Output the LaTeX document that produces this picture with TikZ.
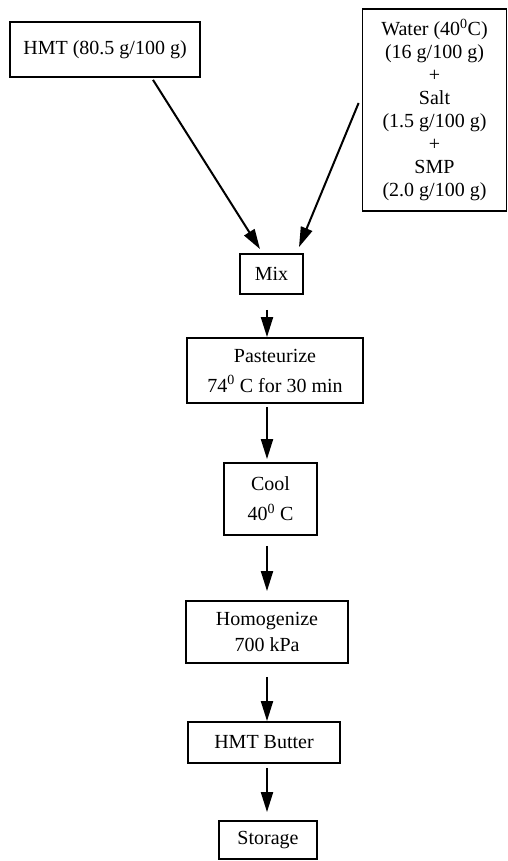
\documentclass[tikz,border=0pt]{standalone}
\usepackage{fontspec}
\setmainfont{Liberation Serif}
\usetikzlibrary{arrows.meta}
\begin{document}
\begin{tikzpicture}[x=1pt,y=1pt,
  box/.style={draw, line width=1.8pt, align=center, inner sep=0pt,
    font=\fontsize{20}{23}\selectfont},
  arr/.style={line width=2pt, -{Triangle[length=20pt,width=12pt]}}]
\useasboundingbox (0,0) rectangle (508,861);
\node[box, minimum width=190pt, minimum height=55pt] (hmt) at (105,811.5) {HMT (80.5 g/100 g)};
\node[box, minimum width=144pt, minimum height=202pt] (water) at (434.5,751)
  {Water (40\textsuperscript{0}C)\\(16 g/100 g)\\+\\Salt\\(1.5 g/100 g)\\+\\SMP\\(2.0 g/100 g)};
\node[box, minimum width=63pt, minimum height=40pt] (mix) at (271.5,587) {Mix};
\node[box, minimum width=176pt, minimum height=65pt, font=\fontsize{20}{30}\selectfont] (past) at (275,490.5)
  {Pasteurize\\74\textsuperscript{0} C for 30 min};
\node[box, minimum width=93pt, minimum height=72pt, font=\fontsize{20}{30}\selectfont] (cool) at (270.5,362)
  {Cool\\40\textsuperscript{0} C};
\node[box, minimum width=162pt, minimum height=62pt, font=\fontsize{20}{26}\selectfont] (homog) at (267,229)
  {Homogenize\\700 kPa};
\node[box, minimum width=152pt, minimum height=41pt] (butter) at (264,118.5) {HMT Butter};
\node[box, minimum width=98pt, minimum height=38pt] (storage) at (268,21) {Storage};
\coordinate (axis) at (267,0);
\draw[arr] ([xshift=48pt,yshift=-2pt]hmt.south) -- ([xshift=-11.5pt,yshift=4pt]mix.north);
\draw[arr] ([shift={(-3pt,7pt)}]water.west) -- ([shift={(27.5pt,6pt)}]mix.north);
\draw[arr, shorten <=15pt] (mix.south -| axis) -- (past.north -| axis);
\draw[arr, shorten <=3pt, shorten >=3pt] (past.south -| axis) -- (cool.north -| axis);
\draw[arr, shorten <=10pt, shorten >=9pt] (cool.south -| axis) -- (homog.north -| axis);
\draw[arr, shorten <=13pt] (homog.south -| axis) -- (butter.north -| axis);
\draw[arr, shorten <=4pt, shorten >=8pt] (butter.south -| axis) -- (storage.north -| axis);
\end{tikzpicture}
\end{document}
